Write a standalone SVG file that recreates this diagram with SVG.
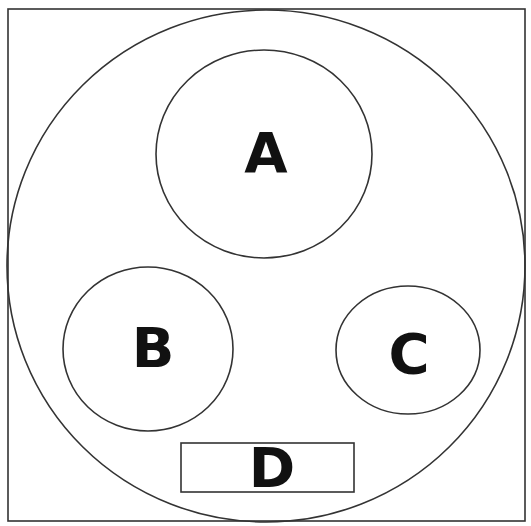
<svg xmlns="http://www.w3.org/2000/svg" width="531" height="526" viewBox="0 0 531 526">
<style>
.s{fill:none;stroke:#333;stroke-width:1.6}
.t{font-family:"DejaVu Sans",Verdana,sans-serif;font-weight:bold;font-size:56px;fill:#111;text-anchor:middle}
</style>
<rect width="531" height="526" fill="#fff"/>
<g id="frame"><rect class="s" x="8" y="9" width="517" height="512" stroke-width="2"/></g>
<g id="outer"><ellipse class="s" cx="266" cy="266" rx="259" ry="256"/></g>
<g id="A"><ellipse class="s" cx="264" cy="154" rx="108" ry="104"/><text class="t" x="266" y="172">A</text></g>
<g id="B"><ellipse class="s" cx="148" cy="349" rx="85" ry="82"/><text class="t" x="153" y="367">B</text></g>
<g id="C"><ellipse class="s" cx="408" cy="350" rx="72" ry="64"/><text class="t" x="409" y="373">C</text></g>
<g id="D"><rect class="s" x="181" y="443" width="173" height="49"/><text class="t" x="272" y="487">D</text></g>
<g id="connectors"></g>
</svg>
